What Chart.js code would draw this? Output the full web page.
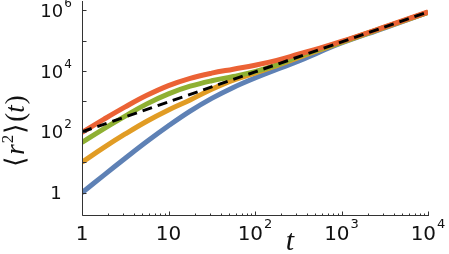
<!DOCTYPE html>
<html>
<head>
<meta charset="utf-8">
<script src="https://cdn.jsdelivr.net/npm/chart.js@4"></script>
<style>
  html, body { margin: 0; padding: 0; background: #fff; }
</style>
</head>
<body>
<canvas id="msdChart" width="449" height="254"></canvas>
<script>
// time samples (x)
const times = [1, 1.78, 3.16, 5.62, 10, 17.8, 31.6, 56.2, 100, 178, 316, 562, 1000, 3162, 10000];

// <r^2>(t) for the four curves
const blueMsd   = [1, 3.72, 13.5, 47.9, 158, 479, 1259, 2884, 5888, 11220, 20890, 42660, 83180, 263000, 851000];
const orangeMsd = [10, 30.2, 85.1, 224, 525, 1122, 2512, 5012, 8511, 15140, 27540, 49550, 87100, 269200, 851000];
const greenMsd  = [44.7, 126, 331, 832, 1778, 3162, 4786, 6607, 9550, 15850, 30200, 52480, 89130, 275400, 851000];
const redMsd    = [95.5, 257, 661, 1585, 3311, 5754, 8511, 11480, 15490, 22390, 35480, 56230, 93330, 281800, 871000];

// dashed reference line
const refTimes = [1, 10000];
const refMsd   = [100, 871000];

// ticks
const xMajorTicks = [1, 10, 100, 1000, 10000];
const xTickLabels = ['1', '10', '10^2', '10^3', '10^4'];
const yMajorTicks = [1, 10, 100, 1000, 10000, 100000, 1000000];
const yLabelTicks = [1, 100, 10000, 1000000];
const yTickLabels = ['1', '10^2', '10^4', '10^6'];

function pts(xs, ys) {
    return xs.map((t, i) => ({ x: t, y: ys[i] }));
}

function drawPow(ctx, label, cx, baseY, baseFont, supFont, rise) {
    let parts = label.split('^');
    ctx.font = baseFont;
    let w1 = ctx.measureText(parts[0]).width;
    let w2 = 0;
    if (parts[1]) {
        ctx.font = supFont;
        w2 = ctx.measureText(parts[1]).width + 1;
    }
    let x0 = cx - (w1 + w2) / 2;
    ctx.textAlign = 'left';
    ctx.textBaseline = 'alphabetic';
    ctx.font = baseFont;
    ctx.fillText(parts[0], x0, baseY);
    if (parts[1]) {
        ctx.font = supFont;
        ctx.fillText(parts[1], x0 + w1 + 1, baseY - rise);
    }
}

const axesPlugin = {
    id: 'mmaAxes',
    afterDatasetsDraw(chart) {
        const ctx = chart.ctx;
        const a = chart.chartArea;
        const xs = chart.scales.x, ys = chart.scales.y;
        const left = Math.round(a.left) + 0.5;
        const bottom = Math.round(a.bottom) + 0.5;
        ctx.save();
        ctx.strokeStyle = '#333';
        ctx.lineWidth = 1;
        ctx.beginPath();
        ctx.moveTo(left, a.top);
        ctx.lineTo(left, bottom);
        ctx.lineTo(a.right + 1, bottom);
        ctx.stroke();

        // x ticks, major and minor
        ctx.beginPath();
        xMajorTicks.forEach((v, i) => {
            let px = Math.round(xs.getPixelForValue(v)) + 0.5;
            ctx.moveTo(px, bottom);
            ctx.lineTo(px, bottom - 4);
            if (i < xMajorTicks.length - 1) {
                for (let m = 2; m <= 9; m++) {
                    let mx = Math.round(xs.getPixelForValue(v * m)) + 0.5;
                    ctx.moveTo(mx, bottom);
                    ctx.lineTo(mx, bottom - 2);
                }
            }
        });
        // y ticks
        yMajorTicks.forEach(v => {
            let py = Math.round(ys.getPixelForValue(v)) + 0.5;
            ctx.moveTo(left, py);
            ctx.lineTo(left + 4, py);
        });
        ctx.stroke();

        // tick labels
        ctx.fillStyle = '#111';
        xMajorTicks.forEach((v, i) => {
            drawPow(ctx, xTickLabels[i], xs.getPixelForValue(v), 240,
                '20px "DejaVu Sans"', '13px "DejaVu Sans"', 12);
        });
        yLabelTicks.forEach((v, i) => {
            drawPow(ctx, yTickLabels[i], 56, ys.getPixelForValue(v) + 6.5,
                '18px "DejaVu Sans"', '12px "DejaVu Sans"', 10);
        });

        // axis titles
        ctx.font = 'italic 30px "Liberation Serif"';
        ctx.textAlign = 'center';
        ctx.fillText('t', 290, 250);

        ctx.translate(24, 131);
        ctx.rotate(-Math.PI / 2);
        let runs = [
            { s: '\u27E8', f: '27px "Liberation Serif"', dy: 0, gap: 1 },
            { s: 'r', f: 'italic 27px "Liberation Serif"', dy: 0, gap: 1 },
            { s: '2', f: '17px "Liberation Serif"', dy: -11, gap: 1 },
            { s: '\u27E9', f: '27px "Liberation Serif"', dy: 0, gap: 1 },
            { s: '(', f: '27px "Liberation Serif"', dy: 0, gap: 0 },
            { s: 't', f: 'italic 27px "Liberation Serif"', dy: 0, gap: 1 },
            { s: ')', f: '27px "Liberation Serif"', dy: 0, gap: 0 }
        ];
        let total = 0;
        runs.forEach(r => { ctx.font = r.f; r.w = ctx.measureText(r.s).width + r.gap; total += r.w; });
        let cx = -total / 2;
        ctx.textAlign = 'left';
        runs.forEach(r => {
            ctx.font = r.f;
            ctx.fillText(r.s, cx, r.dy);
            cx += r.w;
        });
        ctx.restore();
    }
};

let msdCanvas = document.getElementById('msdChart').getContext('2d');
let msdChart = new Chart(msdCanvas, {
    type: 'line',
    data: {
        datasets: [
            { data: pts(refTimes, refMsd), borderColor: '#000', borderWidth: 3, borderDash: [10, 6], order: 0 },
            { data: pts(times, redMsd), borderColor: '#EB6235', borderWidth: 5, order: 1 },
            { data: pts(times, greenMsd), borderColor: '#8FB032', borderWidth: 5, order: 2 },
            { data: pts(times, orangeMsd), borderColor: '#E19C24', borderWidth: 5, order: 3 },
            { data: pts(times, blueMsd), borderColor: '#5E81B5', borderWidth: 5, order: 4 }
        ]
    },
    options: {
        responsive: false,
        animation: false,
        devicePixelRatio: 1,
        parsing: false,
        layout: { padding: { left: 82, right: 21, top: 1, bottom: 39 } },
        elements: {
            point: { radius: 0 },
            line: { tension: 0.4, fill: false }
        },
        scales: {
            x: { type: 'logarithmic', min: 1, max: 10000, display: false },
            y: { type: 'logarithmic', min: 0.185, max: 2000000, display: false }
        },
        plugins: {
            legend: { display: false },
            tooltip: { enabled: false }
        }
    },
    plugins: [axesPlugin]
});
</script>
</body>
</html>
